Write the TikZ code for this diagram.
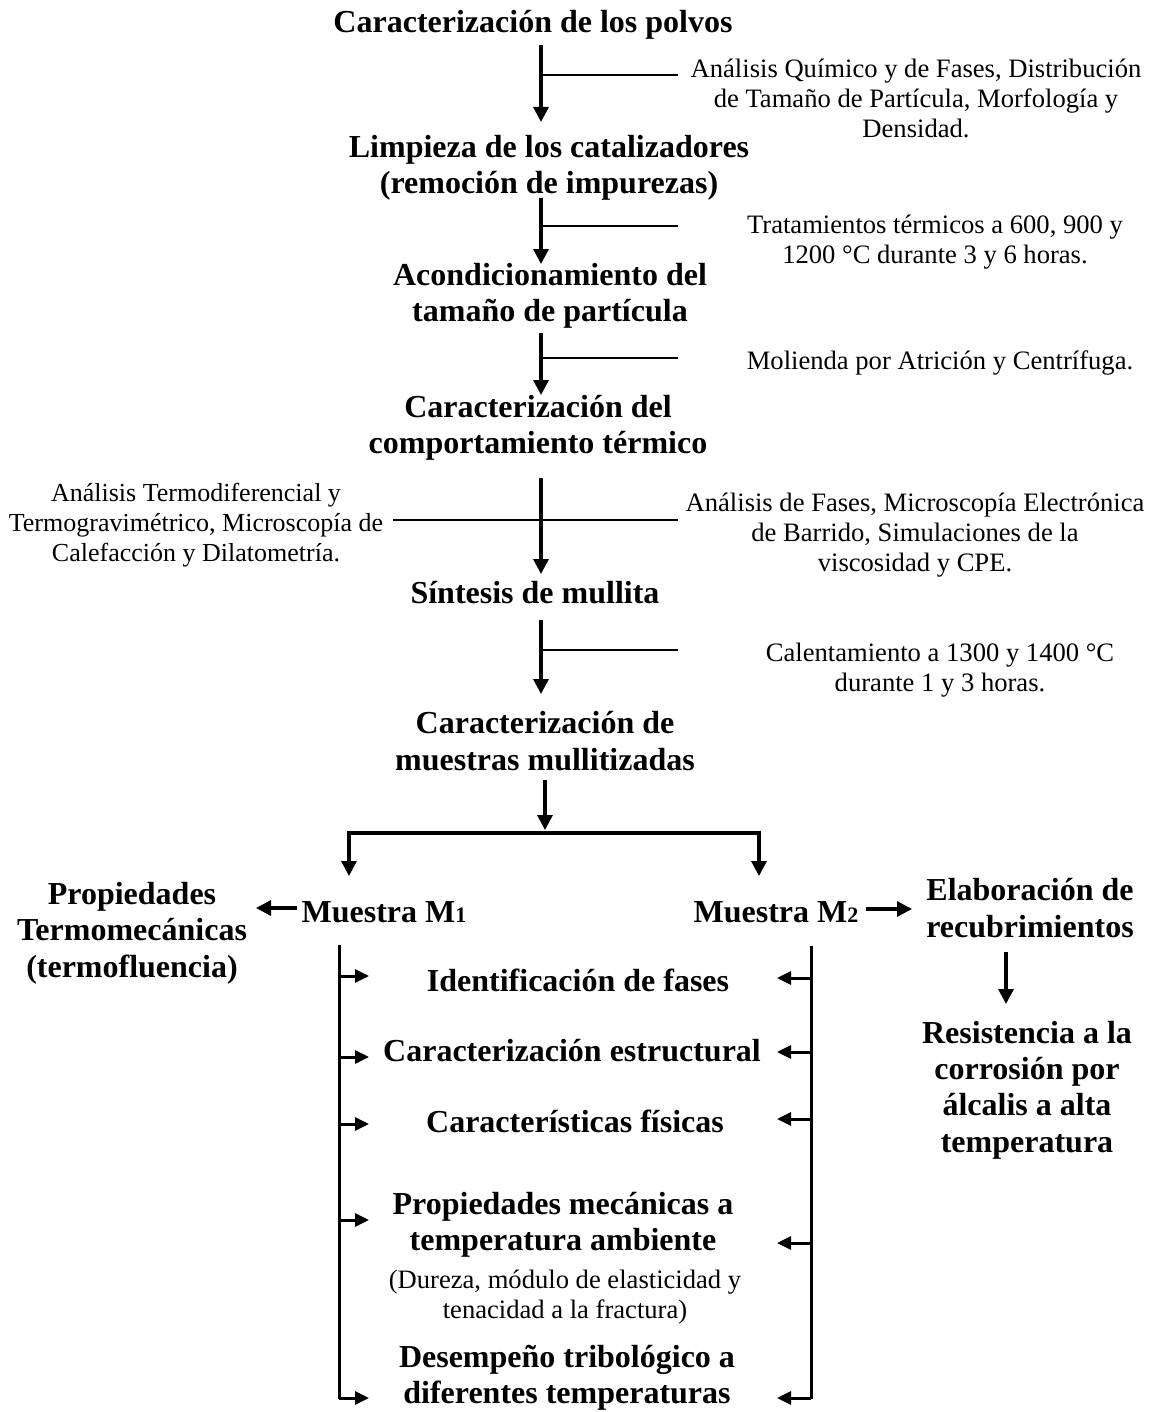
\documentclass[tikz,border=0pt]{standalone}
\usepackage{fontspec}
\setmainfont{Liberation Serif}
\usetikzlibrary{arrows.meta}

\begin{document}
\begin{tikzpicture}[
      x=0.5pt, y=-0.5pt,
      every node/.style={inner sep=0pt, align=center},
      titulo/.style={font=\bfseries\fontsize{16}{18.2}\selectfont},
      nota/.style={font=\fontsize{13.3}{15}\selectfont},
      flecha/.style={line width=1.6pt, -{Triangle[length=7.5pt,width=7.5pt]}},
      punta/.style={line width=1.5pt, -{Triangle[length=7pt,width=6.5pt]}},
      rama/.style={line width=1pt},
      barra/.style={line width=1.5pt}
    ]

    \useasboundingbox (0,0) rectangle (1153,1412);

    % etapas
    \node[titulo] (t1) at (533,25) {Caracterización de los polvos};
    \node[titulo] (t2) at (549,168) {Limpieza de los catalizadores\\(remoción de impurezas)};
    \node[titulo] (t3) at (550,296) {Acondicionamiento del\\tamaño de partícula};
    \node[titulo] (t4) at (538,428) {Caracterización del\\comportamiento térmico};
    \node[titulo] (t5) at (535,593) {Síntesis de mullita};
    \node[titulo] (t6) at (545,741) {Caracterización de\\muestras mullitizadas};

    % notas
    \node[nota] (n1) at (916,98) {Análisis Químico y de Fases, Distribución\\de Tamaño de Partícula, Morfología y\\Densidad.};
    \node[nota] (n2) at (935,242) {Tratamientos térmicos a 600, 900 y\\1200 °C durante 3 y 6 horas.};
    \node[nota] (n3) at (940,363) {Molienda por Atrición y Centrífuga.};
    \node[nota, font=\fontsize{13}{15}\selectfont] (n4i) at (196,525) {Análisis Termodiferencial y\\Termogravimétrico, Microscopía de\\Calefacción y Dilatometría.};
    \node[nota] (n4d) at (915,535) {Análisis de Fases, Microscopía Electrónica\\de Barrido, Simulaciones de la\\viscosidad y CPE.};
    \node[nota] (n5) at (940,670) {Calentamiento a 1300 y 1400 °C\\durante 1 y 3 horas.};

    % ejes
    \coordinate (e1a) at (541,45);  \coordinate (e1b) at (541,122); \coordinate (r1) at (678,75);
    \coordinate (e2a) at (541,198); \coordinate (e2b) at (541,264); \coordinate (r2) at (678,226);
    \coordinate (e3a) at (541,333); \coordinate (e3b) at (541,395); \coordinate (r3) at (678,358);
    \coordinate (e4a) at (541,478); \coordinate (e4b) at (541,574);
    \coordinate (r4i) at (393,520); \coordinate (r4d) at (678,520);
    \coordinate (e5a) at (541,620); \coordinate (e5b) at (541,694); \coordinate (r5) at (678,650);

    \draw[rama] (e1a |- r1) -- (r1);
    \draw[rama] (e2a |- r2) -- (r2);
    \draw[rama] (e3a |- r3) -- (r3);
    \draw[rama] (r4i) -- (r4d);
    \draw[rama] (e5a |- r5) -- (r5);

    \draw[flecha] (e1a) -- (e1b);
    \draw[flecha] (e2a) -- (e2b);
    \draw[flecha] (e3a) -- (e3b);
    \draw[flecha] (e4a) -- (e4b);
    \draw[flecha] (e5a) -- (e5b);

    % bifurcacion
    \coordinate (e6a) at (545,780); \coordinate (e6b) at (545,830);
    \coordinate (f1) at (349,833);  \coordinate (f2) at (759,833);
    \coordinate (d1) at (349,876);  \coordinate (d2) at (759,876);
    \draw[flecha] (e6a) -- (e6b);
    \draw[line width=1.6pt, {Triangle[length=7.5pt,width=7.5pt]}-{Triangle[length=7.5pt,width=7.5pt]}]
      (d1) -- (f1) -- (f2) -- (d2);

    % muestras
    \node[titulo] (m1) at (384,912) {Muestra M{\fontsize{11}{12}\selectfont 1}};
    \node[titulo] (m2) at (776,912) {Muestra M{\fontsize{11}{12}\selectfont 2}};
    \node[titulo] (p1) at (132,933) {Propiedades\\Termomecánicas\\(termofluencia)};
    \node[titulo] (el) at (1030,908) {Elaboración de\\recubrimientos};
    \node[titulo] (rc) at (1027,1090) {Resistencia a la\\corrosión por\\álcalis a alta\\temperatura};

    \coordinate (s1a) at (297,908); \coordinate (s1b) at (256,908);
    \coordinate (s2a) at (866,909); \coordinate (s2b) at (912,909);
    \coordinate (s3a) at (1006,952); \coordinate (s3b) at (1006,1004);
    \draw[flecha] (s1a) -- (s1b);
    \draw[flecha] (s2a) -- (s2b);
    \draw[flecha] (s3a) -- (s3b);

    % ensayos
    \node[titulo] (c1) at (578,980) {Identificación de fases};
    \node[titulo] (c2) at (572,1051) {Caracterización estructural};
    \node[titulo] (c3) at (575,1121) {Características físicas};
    \node[titulo] (c4) at (563,1225) {Propiedades mecánicas a\\temperatura ambiente};
    \node[nota] (c4n) at (565,1297) {(Dureza, módulo de elasticidad y\\tenacidad a la fractura)};
    \node[titulo] (c5) at (567,1378) {Desempeño tribológico a\\diferentes temperaturas};

    \coordinate (bi) at (339,945); \coordinate (bd) at (811,946);
    \draw[barra] (bi) -- (339,1399);
    \draw[barra] (bd) -- (811,1399);
    \foreach \y in {976,1057,1124,1220,1398}
      \draw[punta] (339,\y) -- (369,\y);
    \foreach \y in {978,1052,1119,1243,1398}
      \draw[punta] (811,\y) -- (777,\y);

  \end{tikzpicture}
\end{document}
